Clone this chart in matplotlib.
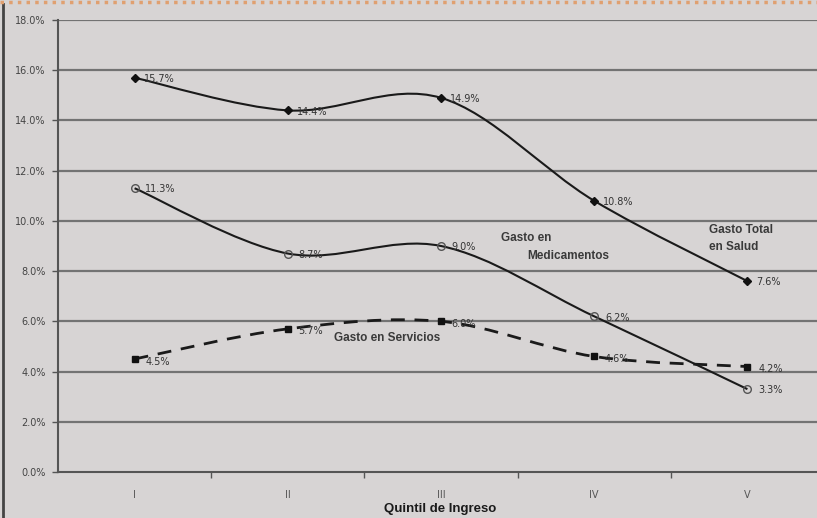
import matplotlib
matplotlib.use("Agg")
import matplotlib.pyplot as plt
from matplotlib.path import Path
from matplotlib.patches import PathPatch
import numpy as np

quintiles = ["I", "II", "III", "IV", "V"]
gasto_total = [15.7, 14.4, 14.9, 10.8, 7.6]
gasto_medicamentos = [11.3, 8.7, 9.0, 6.2, 3.3]
gasto_servicios = [4.5, 5.7, 6.0, 4.6, 4.2]
yticks = [0, 2, 4, 6, 8, 10, 12, 14, 16, 18]

BG = "#d7d4d4"
GRID = "#737373"

fig = plt.figure(figsize=(8.17, 5.18), dpi=100, facecolor=BG)
ax = fig.add_axes([58 / 817, 46 / 518, (824 - 58) / 817, (472 - 20) / 518])
ax.set_facecolor(BG)

x = np.arange(len(quintiles))


def smooth_path(xs, ys):
    # Excel-like smoothed line: cubic Bezier segments with Catmull-Rom control points
    xs = list(xs); ys = list(ys)
    n = len(xs)
    verts = [(xs[0], ys[0])]
    codes = [Path.MOVETO]
    for i in range(n - 1):
        x0, y0 = (xs[i - 1], ys[i - 1]) if i > 0 else (xs[i], ys[i])
        x1, y1 = xs[i], ys[i]
        x2, y2 = xs[i + 1], ys[i + 1]
        x3, y3 = (xs[i + 2], ys[i + 2]) if i + 2 < n else (xs[i + 1], ys[i + 1])
        c1 = (x1 + (x2 - x0) / 6.0, y1 + (y2 - y0) / 6.0)
        c2 = (x2 - (x3 - x1) / 6.0, y2 - (y3 - y1) / 6.0)
        verts += [c1, c2, (x2, y2)]
        codes += [Path.CURVE4, Path.CURVE4, Path.CURVE4]
    return Path(verts, codes)


ax.set_xlim(-0.5, 4.5)
ax.set_ylim(0, 18)
for yv in yticks[1:]:
    ax.axhline(yv, color=GRID, lw=1.6, zorder=1)

# lines
ax.add_patch(PathPatch(smooth_path(x, gasto_total), fill=False, ec="#1a1a1a", lw=1.5, zorder=3))
ax.add_patch(PathPatch(smooth_path(x, gasto_medicamentos), fill=False, ec="#1a1a1a", lw=1.5, zorder=3))
ax.add_patch(PathPatch(smooth_path(x, gasto_servicios), fill=False, ec="#1a1a1a", lw=2.0,
                       ls=(0, (5, 3.5)), zorder=3))

ax.plot(x, gasto_total, ls="none", marker="D", ms=4, color="#111111", zorder=4)
ax.plot(x, gasto_medicamentos, ls="none", marker="o", ms=5.5, mfc="none", mec="#555555", mew=1.0, zorder=4)
ax.plot(x, gasto_servicios, ls="none", marker="s", ms=5, color="#111111", zorder=4)

lab_kw = dict(fontsize=7, color="#333333", va="center", ha="left", zorder=5, family="DejaVu Sans")
for xi, v in zip(x, gasto_total):
    ax.text(xi + 0.06, v - 0.05, f"{v:.1f}%", **lab_kw)
for xi, v in zip(x, gasto_medicamentos):
    ax.text(xi + 0.07, v - 0.05, f"{v:.1f}%", **lab_kw)
for xi, v in zip(x, gasto_servicios):
    ax.text(xi + 0.07, v - 0.1, f"{v:.1f}%", **lab_kw)

ann_kw = dict(fontsize=8.5, color="#3a3a3a", fontweight="bold", family="Liberation Sans",
              zorder=5, ha="left", va="center")
ax.text(2.39, 9.32, "Gasto en", **ann_kw)
ax.text(2.56, 8.62, "Medicamentos", **ann_kw)
ax.text(3.75, 9.64, "Gasto Total", **ann_kw)
ax.text(3.75, 8.96, "en Salud", **ann_kw)
ax.text(1.30, 5.34, "Gasto en Servicios", **ann_kw)

# axes styling
for s in ["top", "right"]:
    ax.spines[s].set_visible(False)
ax.spines["left"].set_color("#555555")
ax.spines["left"].set_linewidth(1.5)
ax.spines["bottom"].set_color("#555555")
ax.spines["bottom"].set_linewidth(1.5)

ax.set_yticks(yticks)
ax.set_yticklabels([f"{v:.1f}%" for v in yticks], fontsize=7, color="#444444")
ax.tick_params(axis="y", length=4, width=1, color="#555555", pad=5)

ax.set_xticks(x)
ax.set_xticklabels(quintiles, fontsize=7, color="#555555")
ax.set_xticks(np.arange(0.5, 4.5, 1.0), minor=True)
ax.tick_params(axis="x", which="major", length=0, pad=13)
ax.tick_params(axis="x", which="minor", length=4, width=1, color="#555555")
ax.set_xlabel("Quintil de Ingreso", fontsize=9.5, fontweight="bold", color="#1a1a1a",
              family="Liberation Sans", labelpad=0, va="center")
ax.xaxis.set_label_coords((440 - 58) / (824 - 58), -(509 - 472) / 452)

# frame decorations
fig.add_artist(plt.Line2D([3 / 817, 3 / 817], [0, 1 - 4 / 518], transform=fig.transFigure,
                          color="#444444", lw=2))
fig.add_artist(plt.Line2D([0, 1], [1 - 1.5 / 518, 1 - 1.5 / 518], transform=fig.transFigure,
                          color="#e0a070", lw=2.5, ls=(0, (1, 1.5))))

fig.savefig("out.png", dpi=100, facecolor=BG)
